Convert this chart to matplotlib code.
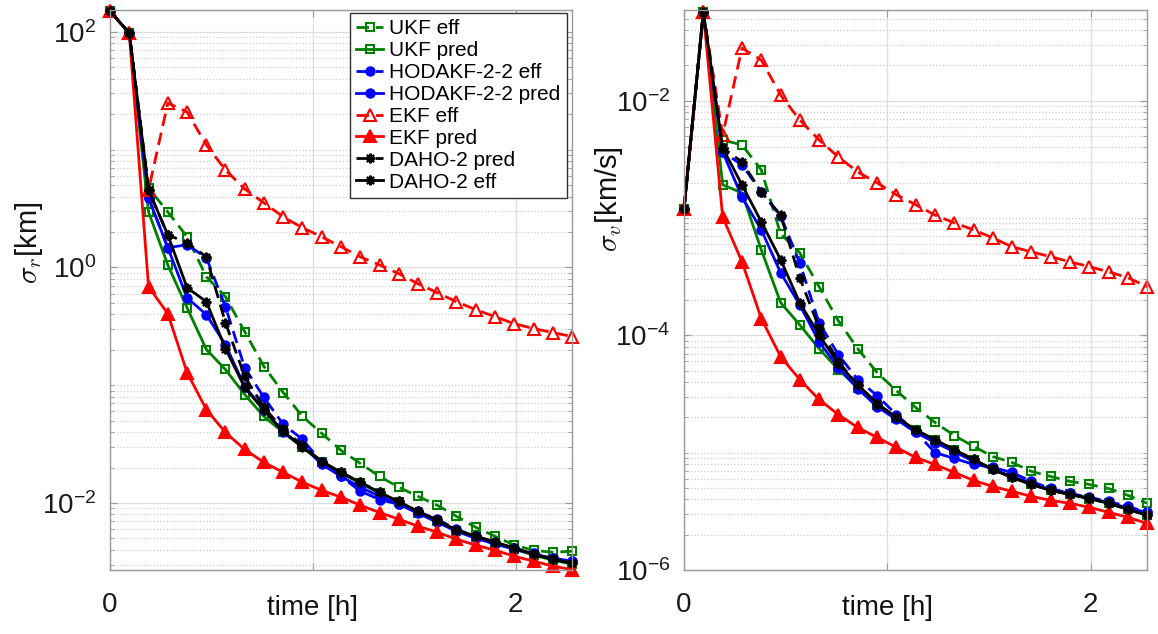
import numpy as np
import matplotlib
matplotlib.use("Agg")
import matplotlib.pyplot as plt
from matplotlib.ticker import FixedLocator, LogLocator, NullFormatter

plt.rcParams['font.family'] = ['Liberation Sans', 'DejaVu Sans']
plt.rcParams['mathtext.fontset'] = 'cm'

# time grid [h]
t = [0.0, 0.095, 0.19, 0.285, 0.38, 0.475, 0.569, 0.664, 0.759, 0.854, 0.949, 1.044, 1.139,
     1.234, 1.329, 1.424, 1.518, 1.613, 1.708, 1.803, 1.898, 1.993, 2.088, 2.183, 2.278]

# position sigma [km]
ukf_eff_r = [150, 97.5, 4.73, 2.96, 1.82, 0.834, 0.565, 0.285, 0.144, 0.0867, 0.0543, 0.0390, 0.0280,
             0.0217, 0.0168, 0.0136, 0.0114, 0.00957, 0.00771, 0.00622, 0.00522, 0.00439, 0.00397, 0.00381, 0.00390]
ukf_pred_r = [150, 97.5, 2.96, 1.05, 0.455, 0.201, 0.136, 0.0834, 0.0543, 0.0397, 0.0297, 0.0221, 0.0179,
              0.0147, 0.0121, 0.0101, 0.0083, 0.0070, 0.00575, 0.00511, 0.00455, 0.00406, 0.00361, 0.00327, 0.00302]
hod_eff_r = [150, 97.5, 3.90, 1.47, 1.56, 1.21, 0.465, 0.141, 0.0787, 0.0465, 0.0347, 0.0221, 0.0168,
             0.0126, 0.0107, 0.00975, 0.00847, 0.00728, 0.00598, 0.00522, 0.00465, 0.00413, 0.00375, 0.00340, 0.00321]
hod_pred_r = [150, 97.5, 3.90, 1.47, 0.553, 0.397, 0.221, 0.0975, 0.0622, 0.0397, 0.0308, 0.0213, 0.0168,
              0.0136, 0.0114, 0.00975, 0.00818, 0.00686, 0.00575, 0.00502, 0.00447, 0.00406, 0.00368, 0.00340, 0.00321]
ekf_eff_r = [150, 97.5, 4.55, 24.9, 20.9, 10.96, 6.73, 4.64, 3.53, 2.69, 2.17, 1.82, 1.50,
             1.23, 1.05, 0.885, 0.728, 0.611, 0.512, 0.438, 0.382, 0.333, 0.303, 0.280, 0.259]
ekf_pred_r = [150, 97.5, 0.686, 0.405, 0.128, 0.0622, 0.0397, 0.0285, 0.0221, 0.0182, 0.0150, 0.0128, 0.0112,
              0.00957, 0.0083, 0.00728, 0.00635, 0.00565, 0.00492, 0.00439, 0.00397, 0.00353, 0.00321, 0.00291, 0.00272]
daho_pred_r = [150, 97.5, 4.55, 1.89, 1.62, 1.23, 0.340, 0.119, 0.0647, 0.0422, 0.0308, 0.0225, 0.0182,
               0.0150, 0.0123, 0.0103, 0.00847, 0.00713, 0.00587, 0.00522, 0.00465, 0.00413, 0.00368, 0.00333, 0.00308]
daho_eff_r = [150, 97.5, 4.55, 1.89, 0.673, 0.512, 0.205, 0.0957, 0.0611, 0.0406, 0.0297, 0.0225, 0.0182,
              0.0150, 0.0123, 0.0103, 0.00847, 0.00713, 0.00587, 0.00522, 0.00465, 0.00413, 0.00368, 0.00333, 0.00308]

# velocity sigma [km/s]
ukf_eff_v = [1.20e-3, 0.0569, 4.63e-3, 4.20e-3, 2.57e-3, 7.34e-4, 5.06e-4, 2.60e-4, 1.33e-4, 7.71e-5, 4.82e-5,
             3.38e-5, 2.43e-5, 1.81e-5, 1.40e-5, 1.13e-5, 9.27e-6, 8.26e-6, 6.92e-6, 6.27e-6, 5.69e-6, 5.36e-6,
             4.95e-6, 4.33e-6, 3.70e-6]
ukf_pred_v = [1.20e-3, 0.0569, 1.92e-3, 1.64e-3, 5.36e-4, 1.90e-4, 1.23e-4, 7.71e-5, 5.11e-5, 3.59e-5, 2.57e-5,
              1.98e-5, 1.55e-5, 1.27e-5, 1.05e-5, 8.7e-6, 7.2e-6, 6.2e-6, 5.4e-6, 4.8e-6, 4.4e-6, 4.05e-6,
              3.7e-6, 3.3e-6, 2.95e-6]
hod_eff_v = [1.20e-3, 0.0569, 3.66e-3, 2.84e-3, 1.67e-3, 1.04e-3, 4.16e-4, 1.28e-4, 6.85e-5, 4.20e-5, 3.07e-5,
             2.11e-5, 1.51e-5, 1.00e-5, 8.93e-6, 7.94e-6, 7.48e-6, 6.78e-6, 5.69e-6, 4.95e-6, 4.50e-6, 4.16e-6,
             3.84e-6, 3.48e-6, 3.10e-6]
hod_pred_v = [1.20e-3, 0.0569, 3.66e-3, 1.51e-3, 7.94e-4, 3.42e-4, 1.82e-4, 8.83e-5, 5.31e-5, 3.52e-5, 2.47e-5,
              1.92e-5, 1.49e-5, 1.22e-5, 1.02e-5, 8.41e-6, 7.19e-6, 6.27e-6, 5.47e-6, 4.86e-6, 4.50e-6, 4.07e-6,
              3.77e-6, 3.36e-6, 3.10e-6]
ekf_eff_v = [1.20e-3, 0.0569, 5.11e-3, 0.0281, 0.0222, 0.0112, 6.85e-3, 4.63e-3, 3.32e-3, 2.47e-3, 2.00e-3,
             1.58e-3, 1.30e-3, 1.06e-3, 9.10e-4, 7.94e-4, 6.78e-4, 5.69e-4, 5.15e-4, 4.68e-4, 4.24e-4, 3.85e-4,
             3.48e-4, 3.10e-4, 2.60e-4]
ekf_pred_v = [1.20e-3, 0.0569, 1.02e-3, 4.24e-4, 1.39e-4, 6.59e-5, 4.20e-5, 2.84e-5, 2.11e-5, 1.64e-5, 1.35e-5,
              1.11e-5, 9.10e-6, 7.94e-6, 6.78e-6, 5.80e-6, 5.15e-6, 4.68e-6, 4.24e-6, 3.92e-6, 3.70e-6, 3.42e-6,
              3.10e-6, 2.81e-6, 2.49e-6]
daho_pred_v = [1.20e-3, 0.0569, 3.96e-3, 3.01e-3, 1.67e-3, 1.06e-3, 3.10e-4, 1.16e-4, 5.97e-5, 3.80e-5, 2.62e-5,
               2.00e-5, 1.57e-5, 1.29e-5, 1.06e-5, 8.75e-6, 7.19e-6, 6.15e-6, 5.36e-6, 4.77e-6, 4.41e-6, 4.07e-6,
               3.70e-6, 3.29e-6, 2.92e-6]
daho_eff_v = [1.20e-3, 0.0569, 3.96e-3, 1.92e-3, 9.29e-4, 4.41e-4, 1.90e-4, 1.01e-4, 5.74e-5, 3.80e-5, 2.62e-5,
              2.00e-5, 1.57e-5, 1.29e-5, 1.06e-5, 8.75e-6, 7.19e-6, 6.15e-6, 5.36e-6, 4.77e-6, 4.41e-6, 4.07e-6,
              3.70e-6, 3.29e-6, 2.92e-6]

labels = ['UKF eff', 'UKF pred', 'HODAKF-2-2 eff', 'HODAKF-2-2 pred',
          'EKF eff', 'EKF pred', 'DAHO-2 pred', 'DAHO-2 eff']

GREEN = '#008000'
# color, linestyle, marker, markersize, filled
styles = [
    (GREEN, '--', 's', 6, False),
    (GREEN, '-', 's', 6, False),
    ('#0000ff', '--', 'o', 6, True),
    ('#0000ff', '-', 'o', 6, True),
    ('#ff0000', '--', '^', 9, False),
    ('#ff0000', '-', '^', 9, True),
    ('k', '--', (8, 2, 0), 7, True),
    ('k', '-', (8, 2, 0), 7, True),
]

pos_data = [ukf_eff_r, ukf_pred_r, hod_eff_r, hod_pred_r, ekf_eff_r, ekf_pred_r, daho_pred_r, daho_eff_r]
vel_data = [ukf_eff_v, ukf_pred_v, hod_eff_v, hod_pred_v, ekf_eff_v, ekf_pred_v, daho_pred_v, daho_eff_v]

fig = plt.figure(figsize=(11.58, 6.34), dpi=100)
ax1 = fig.add_axes([0.095, 0.101, 0.399, 0.883])
ax2 = fig.add_axes([0.5907, 0.101, 0.400, 0.883])


def draw(ax, data):
    lines = []
    for y, lab, (c, ls, mk, ms, filled) in zip(data, labels, styles):
        ln, = ax.plot(t, y, color=c, ls=ls, lw=2, marker=mk, ms=ms,
                      mfc=c if filled else 'none', mec=c, mew=1.5,
                      label=lab, clip_on=False)
        if ls == '--':
            ln.set_dashes((4.5, 2.5))
        lines.append(ln)
    return lines


lines = draw(ax1, pos_data)
draw(ax2, vel_data)

for ax, ylim, majors in [(ax1, (0.00270, 153), [1e-2, 1e0, 1e2]),
                         (ax2, (1e-6, 0.0592), [1e-6, 1e-4, 1e-2])]:
    ax.set_yscale('log')
    ax.set_ylim(*ylim)
    ax.set_xlim(0, 2.278)
    ax.yaxis.set_major_locator(FixedLocator(majors))
    ax.yaxis.set_minor_locator(LogLocator(base=10, subs=np.arange(1, 10) * 1.0, numticks=100))
    ax.yaxis.set_minor_formatter(NullFormatter())
    ax.set_xticks([0, 1, 2])
    ax.set_xticklabels(['0', '', '2'])
    ax.grid(True, which='major', color='#dddddd', lw=0.9)
    ax.grid(True, which='minor', axis='y', color='#cfcfcf', ls=':', lw=0.9)
    ax.set_axisbelow(True)
    for sp in ax.spines.values():
        sp.set_color('#9a9a9a')
        sp.set_linewidth(1.0)
    ax.tick_params(which='both', direction='in', top=True, right=True, color='#9a9a9a',
                   labelcolor='#1a1a1a', labelsize=20)
    ax.tick_params(which='major', length=5)
    ax.tick_params(which='minor', length=3)
    ax.tick_params(axis='x', pad=16)
    ax.tick_params(axis='y', pad=10)
    ax.set_xlabel('time [h]', fontsize=20, color='#111111')
    ax.xaxis.set_label_coords(0.439, -0.044)

ax1.set_ylabel(r'$\sigma_r$[km]', fontsize=21, color='#111111')
ax1.yaxis.set_label_coords(-0.141, 0.585)
ax2.set_ylabel(r'$\sigma_v$[km/s]', fontsize=21, color='#111111')
ax2.yaxis.set_label_coords(-0.127, 0.662)

leg = ax1.legend(handles=lines, loc='upper right', bbox_to_anchor=(0.989, 0.995),
                 borderaxespad=0, fontsize=15, handlelength=1.3, handletextpad=0.3,
                 labelspacing=0.14, borderpad=0.3, fancybox=False, framealpha=1,
                 edgecolor='#333333')
leg.get_frame().set_linewidth(1.0)

fig.savefig('out.png', dpi=100)
